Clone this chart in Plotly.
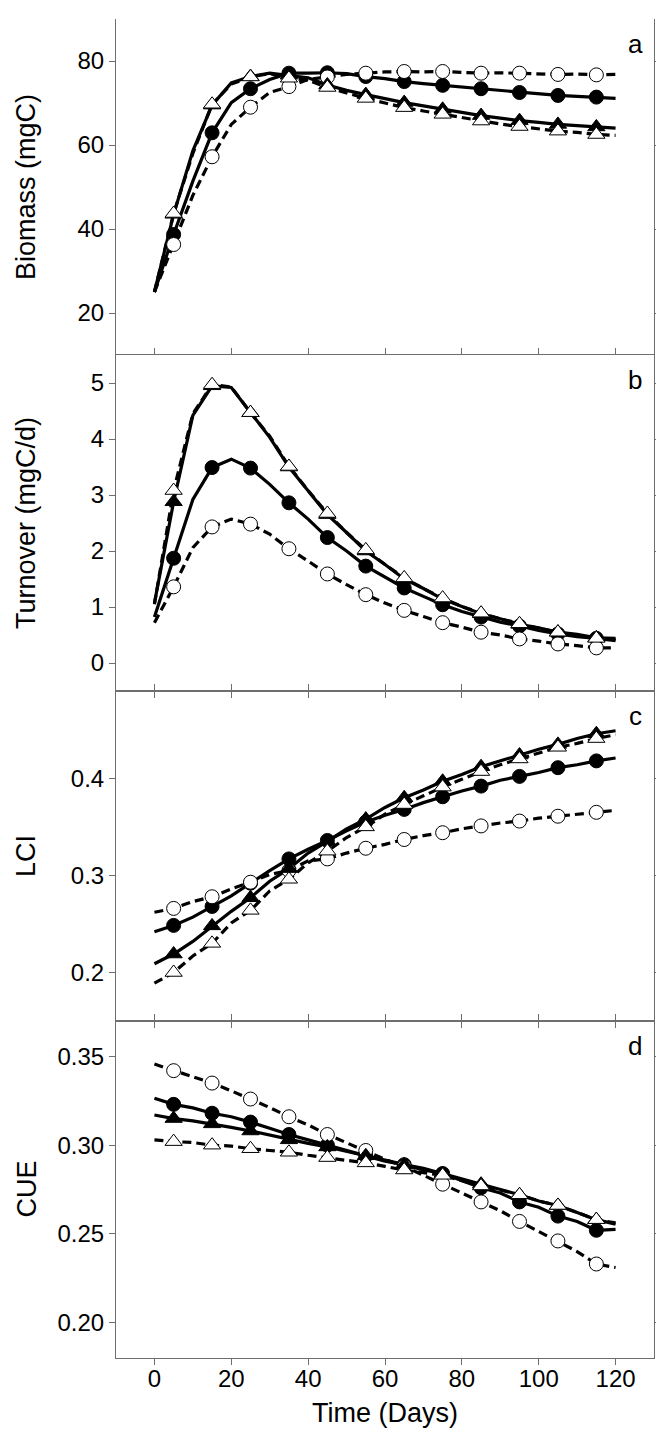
import plotly.graph_objects as go

# ---------------- data ----------------
days_line = [0, 10, 20, 30, 40, 50, 60, 70, 80, 90, 100, 110, 120]
days_mark = [5, 15, 25, 35, 45, 55, 65, 75, 85, 95, 105, 115]

# series: fc = filled circle (solid), oc = open circle (dashed),
#         ft = filled triangle (solid), ot = open triangle (dashed)

# Panel a: Biomass (mgC)
a_fc_line = [25, 51.4, 70.1, 75.6, 77.1, 77.0, 75.8, 74.6, 73.8, 73.0, 72.2, 71.6, 71.1]
a_oc_line = [25, 48.0, 64.9, 72.5, 75.6, 76.8, 77.4, 77.4, 77.3, 77.2, 77.0, 76.9, 76.8]
a_ft_line = [25, 58.6, 74.8, 77.1, 76.0, 73.0, 71.0, 69.3, 67.7, 66.4, 65.4, 64.6, 64.0]
a_ot_line = [25, 58.0, 74.5, 77.0, 75.4, 72.4, 70.0, 68.1, 66.5, 65.0, 63.9, 63.0, 62.3]
a_fc_mark = [38.7, 62.9, 73.4, 77.1, 77.2, 76.3, 75.1, 74.2, 73.4, 72.5, 71.8, 71.4]
a_oc_mark = [36.3, 57.2, 69.0, 73.9, 76.2, 77.1, 77.5, 77.5, 77.1, 77.1, 76.8, 76.7]
a_ft_mark = [43.5, 69.5, 76.3, 76.6, 74.3, 72.0, 70.1, 68.5, 67.0, 65.8, 64.9, 64.3]
a_ot_mark = [43.7, 69.7, 76.2, 75.9, 73.7, 71.1, 68.9, 67.3, 65.7, 64.4, 63.3, 62.5]

# Panel b: Turnover (mgC/d)
b_fc_line = [0.82, 2.92, 3.64, 3.19, 2.57, 2.00, 1.53, 1.19, 0.92, 0.73, 0.58, 0.47, 0.40]
b_oc_line = [0.72, 2.06, 2.57, 2.30, 1.82, 1.40, 1.07, 0.83, 0.64, 0.50, 0.39, 0.31, 0.27]
b_ft_line = [1.07, 4.42, 4.92, 4.03, 3.07, 2.33, 1.76, 1.33, 1.01, 0.79, 0.63, 0.51, 0.44]
b_ot_line = [1.05, 4.45, 4.93, 4.05, 3.08, 2.33, 1.76, 1.33, 1.01, 0.79, 0.62, 0.50, 0.42]
b_fc_mark = [1.87, 3.49, 3.48, 2.86, 2.24, 1.73, 1.34, 1.04, 0.82, 0.66, 0.52, 0.44]
b_oc_mark = [1.36, 2.43, 2.48, 2.04, 1.59, 1.22, 0.94, 0.72, 0.55, 0.43, 0.34, 0.27]
b_ft_mark = [2.88, 4.95, 4.47, 3.50, 2.65, 2.00, 1.50, 1.14, 0.88, 0.69, 0.55, 0.45]
b_ot_mark = [3.08, 4.97, 4.47, 3.51, 2.67, 2.02, 1.52, 1.16, 0.89, 0.70, 0.55, 0.44]

# Panel c: LCI
c_fc_line = [0.242, 0.257, 0.279, 0.305, 0.327, 0.346, 0.362, 0.375, 0.387, 0.398, 0.406, 0.414, 0.421]
c_oc_line = [0.262, 0.273, 0.286, 0.301, 0.315, 0.323, 0.332, 0.341, 0.348, 0.354, 0.359, 0.363, 0.367]
c_ft_line = [0.209, 0.232, 0.263, 0.294, 0.323, 0.348, 0.370, 0.388, 0.404, 0.418, 0.430, 0.441, 0.449]
c_ot_line = [0.189, 0.217, 0.251, 0.284, 0.313, 0.339, 0.363, 0.382, 0.399, 0.414, 0.426, 0.436, 0.445]
c_fc_mark = [0.2485, 0.268, 0.292, 0.317, 0.336, 0.355, 0.368, 0.381, 0.392, 0.402, 0.411, 0.418]
c_oc_mark = [0.266, 0.278, 0.293, 0.305, 0.317, 0.328, 0.337, 0.344, 0.351, 0.356, 0.361, 0.365]
c_ft_mark = [0.219, 0.248, 0.277, 0.307, 0.335, 0.358, 0.380, 0.397, 0.412, 0.424, 0.435, 0.446]
c_ot_mark = [0.200, 0.230, 0.264, 0.296, 0.325, 0.350, 0.373, 0.391, 0.407, 0.420, 0.432, 0.441]

# Panel d: CUE
d_fc_line = [0.3265, 0.321, 0.316, 0.3095, 0.303, 0.297, 0.291, 0.286, 0.280, 0.273, 0.265, 0.257, 0.2525]
d_oc_line = [0.3457, 0.3385, 0.3306, 0.3212, 0.3114, 0.3014, 0.292, 0.283, 0.273, 0.263, 0.2515, 0.240, 0.231]
d_ft_line = [0.317, 0.3137, 0.310, 0.3057, 0.301, 0.2963, 0.2916, 0.287, 0.2813, 0.275, 0.2685, 0.262, 0.2555]
d_ot_line = [0.303, 0.3015, 0.2995, 0.297, 0.2943, 0.2914, 0.288, 0.2845, 0.280, 0.2747, 0.2685, 0.262, 0.2562]
d_fc_mark = [0.323, 0.318, 0.313, 0.306, 0.300, 0.294, 0.289, 0.284, 0.276, 0.268, 0.260, 0.252]
d_oc_mark = [0.342, 0.335, 0.326, 0.316, 0.306, 0.297, 0.288, 0.278, 0.268, 0.257, 0.246, 0.233]
d_ft_mark = [0.315, 0.312, 0.308, 0.303, 0.299, 0.294, 0.289, 0.284, 0.278, 0.272, 0.266, 0.258]
d_ot_mark = [0.302, 0.300, 0.298, 0.296, 0.293, 0.290, 0.286, 0.283, 0.277, 0.272, 0.266, 0.258]

panel_titles = ["Biomass (mgC)", "Turnover (mgC/d)", "LCI", "CUE"]
panel_letters = ["a", "b", "c", "d"]
x_ticks = [0, 20, 40, 60, 80, 100, 120]
y_ticks = [[20, 40, 60, 80], [0, 1, 2, 3, 4, 5], [0.2, 0.3, 0.4], [0.20, 0.25, 0.30, 0.35]]
y_tick_text = [["20", "40", "60", "80"], ["0", "1", "2", "3", "4", "5"],
               ["0.2", "0.3", "0.4"], ["0.20", "0.25", "0.30", "0.35"]]
y_ranges = [[10, 90], [-0.5, 5.5], [0.15, 0.49], [0.18, 0.37]]

panels = [
    (a_fc_line, a_oc_line, a_ft_line, a_ot_line, a_fc_mark, a_oc_mark, a_ft_mark, a_ot_mark),
    (b_fc_line, b_oc_line, b_ft_line, b_ot_line, b_fc_mark, b_oc_mark, b_ft_mark, b_ot_mark),
    (c_fc_line, c_oc_line, c_ft_line, c_ot_line, c_fc_mark, c_oc_mark, c_ft_mark, c_ot_mark),
    (d_fc_line, d_oc_line, d_ft_line, d_ot_line, d_fc_mark, d_oc_mark, d_ft_mark, d_ot_mark),
]


def curve(line_vals, mark_vals):
    """Model curve passes through the 10-day nodes and the 5-day sample points."""
    pts = sorted(list(zip(days_line, line_vals)) + list(zip(days_mark, mark_vals)))
    return [p[0] for p in pts], [p[1] for p in pts]


# ---------------- layout ----------------
W, H = 664, 1445
ML, MR, MT, MB = 108, 12, 11, 95
plot_h = H - MT - MB
bounds_px = [11, 347, 683, 1013, 1350]  # top of a ... bottom of d
domains = []
for i in range(4):
    top = 1 - (bounds_px[i] - MT) / plot_h
    bot = 1 - (bounds_px[i + 1] - MT) / plot_h
    domains.append([max(0, bot), min(1, top)])

FONT = "Liberation Sans, Arial, Helvetica, sans-serif"
AXC = "#6e6e6e"

fig = go.Figure()

solid = dict(color="black", width=3.2)
dashed = dict(color="black", width=3.2, dash="9px,5px")

for i, p in enumerate(panels):
    fcl, ocl, ftl, otl, fcm, ocm, ftm, otm = p
    xa = "x" if i == 3 else f"x{i + 1}"
    ya = f"y{i + 1}" if i > 0 else "y"
    common = dict(xaxis=xa, yaxis=ya, showlegend=False, hoverinfo="x+y")
    # lines
    for lv, mv, st in [(fcl, fcm, solid), (ocl, ocm, dashed), (ftl, ftm, solid), (otl, otm, dashed)]:
        cx, cy = curve(lv, mv)
        fig.add_trace(go.Scatter(x=cx, y=cy, mode="lines", line=st, **common))
    # markers
    fig.add_trace(go.Scatter(x=days_mark, y=fcm, mode="markers",
                             marker=dict(symbol="circle", size=14, color="black",
                                         line=dict(color="black", width=1)), **common))
    fig.add_trace(go.Scatter(x=days_mark, y=ocm, mode="markers",
                             marker=dict(symbol="circle", size=14, color="white",
                                         line=dict(color="black", width=1)), **common))
    fig.add_trace(go.Scatter(x=days_mark, y=ftm, mode="markers",
                             marker=dict(symbol="triangle-up", size=15, color="black",
                                         line=dict(color="black", width=1)), **common))
    fig.add_trace(go.Scatter(x=days_mark, y=otm, mode="markers",
                             marker=dict(symbol="triangle-up", size=15, color="white",
                                         line=dict(color="black", width=1)), **common))

axis_common = dict(
    showline=True, linecolor=AXC, linewidth=1, mirror="ticks",
    ticks="outside", ticklen=6, tickcolor=AXC, tickwidth=1,
    showgrid=False, zeroline=False,
    tickfont=dict(family=FONT, size=24, color="black"),
)

layout = dict(
    width=W, height=H,
    margin=dict(l=ML, r=MR, t=MT, b=MB),
    plot_bgcolor="white", paper_bgcolor="white",
    font=dict(family=FONT, color="black"),
    annotations=[],
)

for i in range(4):
    xkey = "xaxis" if i == 3 else f"xaxis{i + 1}"
    ykey = "yaxis" if i == 0 else f"yaxis{i + 1}"
    yname = "y" if i == 0 else f"y{i + 1}"
    xname = "x" if i == 3 else f"x{i + 1}"
    xa = dict(axis_common, range=[-10, 130], tickvals=x_ticks, anchor=yname,
              domain=[0, 1], showticklabels=(i == 3))
    if i != 3:
        xa["matches"] = "x"
    if i == 3:
        xa["ticklabelstandoff"] = -7
        xa["title"] = dict(text="Time (Days)", font=dict(family=FONT, size=27),
                           standoff=12)
    layout[xkey] = xa
    layout[ykey] = dict(axis_common, range=y_ranges[i], tickvals=y_ticks[i],
                        ticktext=y_tick_text[i], anchor=xname, domain=domains[i])
    layout["annotations"].append(dict(
        text=panel_letters[i], xref="paper", x=0.965, xanchor="center",
        yref=f"{yname} domain", y=1, yshift=-25, yanchor="middle",
        showarrow=False, font=dict(family=FONT, size=26, color="black")))
    layout["annotations"].append(dict(
        text=panel_titles[i], xref="paper", x=0, xshift=-90, xanchor="center",
        yref=f"{yname} domain", y=0.5, yanchor="middle", textangle=-90,
        showarrow=False, font=dict(family=FONT, size=27, color="black")))

fig.update_layout(**layout)
fig.write_html("out.html")
